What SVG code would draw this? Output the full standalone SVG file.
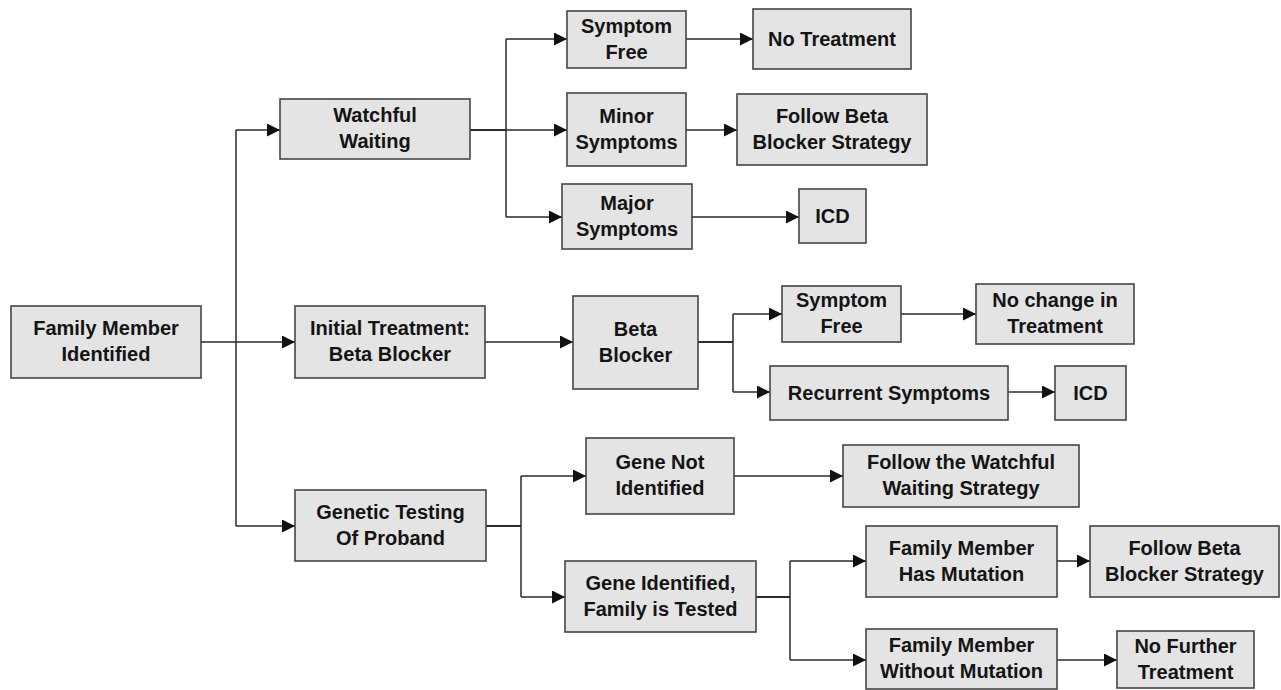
<svg xmlns="http://www.w3.org/2000/svg" width="1281" height="690" viewBox="0 0 1281 690">
<style>
.box{fill:#e4e4e4;stroke:#454545;stroke-width:1.6}
.t{font-family:"Liberation Sans",Arial,Helvetica,sans-serif;font-weight:bold;font-size:20px;fill:#141414;text-anchor:middle}
.c{fill:none;stroke:#2a2a2a;stroke-width:1.5}
.s{fill:none;stroke:#2a2a2a;stroke-width:2.2}
.a{marker-end:url(#ah)}
</style>
<defs>
<marker id="ah" markerUnits="userSpaceOnUse" markerWidth="14" markerHeight="13" refX="13" refY="6.5" orient="auto">
<path d="M0,0 L13,6.5 L0,13 z" fill="#111"/>
</marker>
</defs>
<rect width="1281" height="690" fill="#ffffff"/>
<g id="connectors">
<path class="c" d="M236,130 V526"/>
<path class="c a" d="M236,130 H280"/>
<path class="c a" d="M236,526 H295"/>
<path class="c a" d="M201,342 H295"/>
<path class="s" d="M470,130 H506"/>
<path class="c" d="M506,39 V217"/>
<path class="c a" d="M506,39 H567"/>
<path class="c a" d="M506,130 H567"/>
<path class="c a" d="M506,217 H562"/>
<path class="c a" d="M686,39 H753"/>
<path class="c a" d="M686,130 H737"/>
<path class="c a" d="M692,217 H799"/>
<path class="c a" d="M485,342 H573"/>
<path class="s" d="M698,342 H733"/>
<path class="c" d="M733,314 V392"/>
<path class="c a" d="M733,314 H782"/>
<path class="c a" d="M733,392 H770"/>
<path class="c a" d="M901,314 H976"/>
<path class="c a" d="M1008,392 H1055"/>
<path class="s" d="M486,526 H521"/>
<path class="c" d="M521,476 V597"/>
<path class="c a" d="M521,476 H586"/>
<path class="c a" d="M521,597 H565"/>
<path class="c a" d="M734,476 H843"/>
<path class="s" d="M756,597 H790"/>
<path class="c" d="M790,561 V660"/>
<path class="c a" d="M790,561 H866"/>
<path class="c a" d="M790,660 H866"/>
<path class="c a" d="M1057,561 H1090"/>
<path class="c a" d="M1057,660 H1117"/>
</g>
<g id="family-member-identified"><rect class="box" x="11" y="306" width="190" height="72"/><text class="t" x="106" y="335">Family Member</text><text class="t" x="106" y="361">Identified</text></g>
<g id="watchful-waiting"><rect class="box" x="280" y="99" width="190" height="60"/><text class="t" x="375" y="122">Watchful</text><text class="t" x="375" y="148">Waiting</text></g>
<g id="initial-treatment"><rect class="box" x="295" y="306" width="190" height="72"/><text class="t" x="390" y="335">Initial Treatment:</text><text class="t" x="390" y="361">Beta Blocker</text></g>
<g id="genetic-testing"><rect class="box" x="295" y="490" width="191" height="71"/><text class="t" x="390.5" y="518.5">Genetic Testing</text><text class="t" x="390.5" y="544.5">Of Proband</text></g>
<g id="symptom-free-1"><rect class="box" x="567" y="11" width="119" height="57"/><text class="t" x="626.5" y="32.5">Symptom</text><text class="t" x="626.5" y="58.5">Free</text></g>
<g id="no-treatment"><rect class="box" x="753" y="9" width="158" height="60"/><text class="t" x="832" y="46">No Treatment</text></g>
<g id="minor-symptoms"><rect class="box" x="567" y="93" width="119" height="73"/><text class="t" x="626.5" y="122.5">Minor</text><text class="t" x="626.5" y="148.5">Symptoms</text></g>
<g id="follow-beta-1"><rect class="box" x="737" y="94" width="190" height="71"/><text class="t" x="832" y="122.5">Follow Beta</text><text class="t" x="832" y="148.5">Blocker Strategy</text></g>
<g id="major-symptoms"><rect class="box" x="562" y="184" width="130" height="65"/><text class="t" x="627" y="209.5">Major</text><text class="t" x="627" y="235.5">Symptoms</text></g>
<g id="icd-1"><rect class="box" x="799" y="189" width="67" height="54"/><text class="t" x="832.5" y="223">ICD</text></g>
<g id="beta-blocker"><rect class="box" x="573" y="296" width="125" height="93"/><text class="t" x="635.5" y="335.5">Beta</text><text class="t" x="635.5" y="361.5">Blocker</text></g>
<g id="symptom-free-2"><rect class="box" x="782" y="286" width="119" height="56"/><text class="t" x="841.5" y="307">Symptom</text><text class="t" x="841.5" y="333">Free</text></g>
<g id="no-change"><rect class="box" x="976" y="284" width="158" height="60"/><text class="t" x="1055" y="307">No change in</text><text class="t" x="1055" y="333">Treatment</text></g>
<g id="recurrent-symptoms"><rect class="box" x="770" y="366" width="238" height="54"/><text class="t" x="889" y="400">Recurrent Symptoms</text></g>
<g id="icd-2"><rect class="box" x="1055" y="366" width="71" height="54"/><text class="t" x="1090.5" y="400">ICD</text></g>
<g id="gene-not-identified"><rect class="box" x="586" y="438" width="148" height="76"/><text class="t" x="660" y="469">Gene Not</text><text class="t" x="660" y="495">Identified</text></g>
<g id="gene-identified"><rect class="box" x="565" y="561" width="191" height="71"/><text class="t" x="660.5" y="589.5">Gene Identified,</text><text class="t" x="660.5" y="615.5">Family is Tested</text></g>
<g id="follow-watchful"><rect class="box" x="843" y="445" width="236" height="62"/><text class="t" x="961" y="469">Follow the Watchful</text><text class="t" x="961" y="495">Waiting Strategy</text></g>
<g id="fm-has-mutation"><rect class="box" x="866" y="526" width="191" height="71"/><text class="t" x="961.5" y="554.5">Family Member</text><text class="t" x="961.5" y="580.5">Has Mutation</text></g>
<g id="follow-beta-2"><rect class="box" x="1090" y="526" width="189" height="71"/><text class="t" x="1184.5" y="554.5">Follow Beta</text><text class="t" x="1184.5" y="580.5">Blocker Strategy</text></g>
<g id="fm-without-mutation"><rect class="box" x="866" y="629" width="191" height="60"/><text class="t" x="961.5" y="652">Family Member</text><text class="t" x="961.5" y="678">Without Mutation</text></g>
<g id="no-further-treatment"><rect class="box" x="1117" y="631" width="137" height="57"/><text class="t" x="1185.5" y="652.5">No Further</text><text class="t" x="1185.5" y="678.5">Treatment</text></g>
</svg>
